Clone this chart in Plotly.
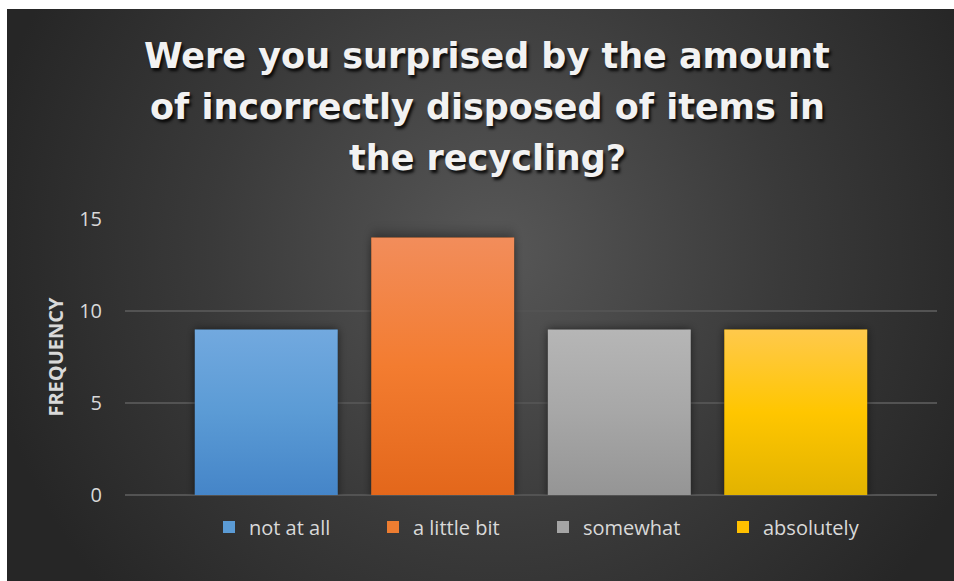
import base64
import plotly.graph_objects as go

# Survey responses
categories = ["not at all", "a little bit", "somewhat", "absolutely"]
frequencies = [9, 14, 9, 9]
y_ticks = [0, 5, 10, 15]
title_lines = [
    "Were you surprised by the amount",
    "of incorrectly disposed of items in",
    "the recycling?",
]

# Solid colours (legend swatches) and vertical gradients (top, middle, bottom)
base_colors = ["#5b9bd5", "#ed7d31", "#a5a5a5", "#ffc000"]
gradients = [
    ("#72a9df", "#5b9bd5", "#4585c8"),
    ("#f28d5b", "#f37c30", "#e3671b"),
    ("#b6b6b6", "#a7a7a7", "#959595"),
    ("#ffc94c", "#ffc600", "#e2b300"),
]
BAR_W = 0.81

# Left pixel edge of each legend entry
legend_left_px = [209, 373, 543, 723]


def svg_uri(svg):
    return "data:image/svg+xml;base64," + base64.b64encode(svg.encode()).decode()


def gradient_svg(top, mid, bottom):
    return svg_uri(
        '<svg xmlns="http://www.w3.org/2000/svg" width="100" height="100" '
        'preserveAspectRatio="none" viewBox="0 0 100 100">'
        '<defs><linearGradient id="g" x1="0" y1="0" x2="0" y2="1">'
        f'<stop offset="0" stop-color="{top}"/>'
        f'<stop offset="0.5" stop-color="{mid}"/>'
        f'<stop offset="1" stop-color="{bottom}"/>'
        '</linearGradient></defs>'
        '<rect width="100" height="100" fill="url(#g)"/></svg>'
    )


def shadow_svg():
    return svg_uri(
        '<svg xmlns="http://www.w3.org/2000/svg" width="120" height="120" '
        'preserveAspectRatio="none" viewBox="0 0 120 120">'
        '<defs><filter id="b" x="-20%" y="-20%" width="140%" height="140%">'
        '<feGaussianBlur stdDeviation="3"/></filter></defs>'
        '<rect x="12" y="10" width="100" height="102" fill="#000" '
        'fill-opacity="0.55" filter="url(#b)"/></svg>'
    )


background = svg_uri(
    '<svg xmlns="http://www.w3.org/2000/svg" width="947" height="572" '
    'preserveAspectRatio="none" viewBox="0 0 947 572">'
    '<defs><radialGradient id="r" gradientUnits="userSpaceOnUse" '
    'cx="490" cy="240" r="520">'
    '<stop offset="0" stop-color="#575757"/>'
    '<stop offset="0.55" stop-color="#3a3a3a"/>'
    '<stop offset="1" stop-color="#262626"/>'
    '</radialGradient></defs>'
    '<rect width="947" height="572" fill="url(#r)"/></svg>'
)

# Frame geometry in pixels
W, H = 954, 581
L, R, T, B = 125, 17, 219, 86
pw, ph = W - L - R, H - T - B


def px_x(p):
    return (p - L) / pw


def px_y(p):
    return (H - B - p) / ph


fig = go.Figure()
legend_names = ["legend"] + [f"legend{k}" for k in range(2, len(categories) + 1)]
for i, (cat, val) in enumerate(zip(categories, frequencies)):
    fig.add_trace(go.Bar(
        x=[i], y=[val], name=cat, width=BAR_W, legend=legend_names[i],
        marker=dict(color=base_colors[i], line=dict(width=0)),
    ))

images = [dict(
    source=background, xref="paper", yref="paper",
    x=px_x(7), y=px_y(9), sizex=px_x(W) - px_x(7), sizey=px_y(9) - px_y(H),
    xanchor="left", yanchor="top", sizing="stretch", layer="below",
)]
for i, val in enumerate(frequencies):
    images.append(dict(
        source=shadow_svg(), xref="x", yref="y",
        x=i - BAR_W / 2 - BAR_W * 0.12, y=val * 1.0 + val * 0.10,
        sizex=BAR_W * 1.2, sizey=val * 1.2,
        xanchor="left", yanchor="top", sizing="stretch", layer="above",
    ))
    images.append(dict(
        source=gradient_svg(*gradients[i]), xref="x", yref="y",
        x=i - BAR_W / 2, y=val, sizex=BAR_W, sizey=val,
        xanchor="left", yanchor="top", sizing="stretch", layer="above",
    ))

# Title, one annotation per line
title_font = dict(family="DejaVu Sans", size=35, color="#f2f2f2",
                  weight="bold", shadow="2px 3px 3px rgba(0,0,0,0.85)")
line_centers = [56, 107, 158]
annotations = [
    dict(text=t, xref="paper", yref="paper", x=px_x(487), y=px_y(c),
         xanchor="center", yanchor="middle", showarrow=False, font=title_font)
    for t, c in zip(title_lines, line_centers)
]

legend_style = dict(
    orientation="h", yanchor="middle", y=px_y(527), xanchor="left",
    font=dict(family="Open Sans", size=20, color="#d9d9d9"),
    bgcolor="rgba(0,0,0,0)", itemwidth=30,
)
legends = {name: dict(legend_style, x=px_x(lx))
           for name, lx in zip(legend_names, legend_left_px)}

fig.update_layout(
    width=W, height=H,
    margin=dict(l=L, r=R, t=T, b=B),
    paper_bgcolor="#ffffff",
    plot_bgcolor="rgba(0,0,0,0)",
    barmode="overlay",
    images=images,
    annotations=annotations,
    xaxis=dict(
        range=[-0.8, 3.8], showticklabels=False, showgrid=False,
        zeroline=False, fixedrange=True,
    ),
    yaxis=dict(
        range=[0, 15], tickvals=y_ticks,
        showgrid=True, gridcolor="#535353", gridwidth=1.5,
        zeroline=True, zerolinecolor="#535353", zerolinewidth=1.5,
        tickfont=dict(family="Open Sans", size=20, color="#d9d9d9"),
        ticklabelstandoff=22,
        title=dict(text="FREQUENCY", standoff=10,
                   font=dict(family="Open Sans", size=20, color="#d9d9d9",
                             weight="bold")),
    ),
    showlegend=True,
    **legends,
)

fig.write_html("out.html")
